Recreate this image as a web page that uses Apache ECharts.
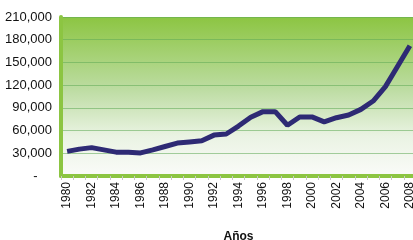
<!DOCTYPE html>
<html><head><meta charset="utf-8">
<script src="https://cdn.jsdelivr.net/npm/echarts@6/dist/echarts.min.js"></script>
<style>html,body{margin:0;padding:0;background:#fff}#c{width:413px;height:240px}</style>
</head><body><div id="c"></div>
<script>
const years = ['1980','1981','1982','1983','1984','1985','1986','1987','1988','1989','1990','1991','1992','1993','1994','1995','1996','1997','1998','1999','2000','2001','2002','2003','2004','2005','2006','2007','2008'];
const values = [32500,35500,37500,34500,31500,31500,30500,34500,39000,43500,45000,46500,54000,55500,66000,77500,85000,85000,67000,78000,78000,71500,77000,80500,88000,99000,118000,145000,172000];
const yMin = 0, yMax = 210000, yStep = 30000;

const chart = echarts.init(document.getElementById('c'));
chart.setOption({
  animation: false,
  grid: {left: 61, right: -3, top: 17, bottom: 64, show: true, borderWidth: 0, outerBoundsMode: 'none', containLabel: false,
    backgroundColor: {type: 'linear', x: 0, y: 0, x2: 0, y2: 1, colorStops: [
      {offset: 0, color: '#8cc542'}, {offset: 0.45, color: '#bcdca1'}, {offset: 0.75, color: '#eaf3e3'}, {offset: 1, color: '#fafbf9'}]}},
  xAxis: {type: 'category', data: years, boundaryGap: true,
    axisLine: {lineStyle: {color: '#8cc542', width: 4}},
    axisTick: {show: true, interval: 0, length: 4, lineStyle: {color: '#c8c8c8'}},
    axisLabel: {interval: 1, rotate: 90, margin: 6, color: '#111', fontSize: 12, fontFamily: 'Liberation Sans'},
    name: 'Años', nameLocation: 'middle', nameGap: 55,
    nameTextStyle: {fontWeight: 'bold', fontSize: 12, color: '#111', fontFamily: 'Liberation Sans'}},
  yAxis: {type: 'value', min: yMin, max: yMax, interval: yStep,
    axisLine: {show: true, lineStyle: {color: '#8cc542', width: 4}},
    axisTick: {show: false},
    splitLine: {lineStyle: {color: 'rgba(95,170,85,0.55)', width: 1}},
    axisLabel: {margin: 9, color: '#111', fontSize: 13, fontFamily: 'Liberation Sans',
      formatter: v => v === 0 ? '-    ' : v.toLocaleString('en-US')}},
  series: [{type: 'line', data: values, symbol: 'none',
    lineStyle: {color: '#2e2a74', width: 5}}]
});
</script></body></html>
